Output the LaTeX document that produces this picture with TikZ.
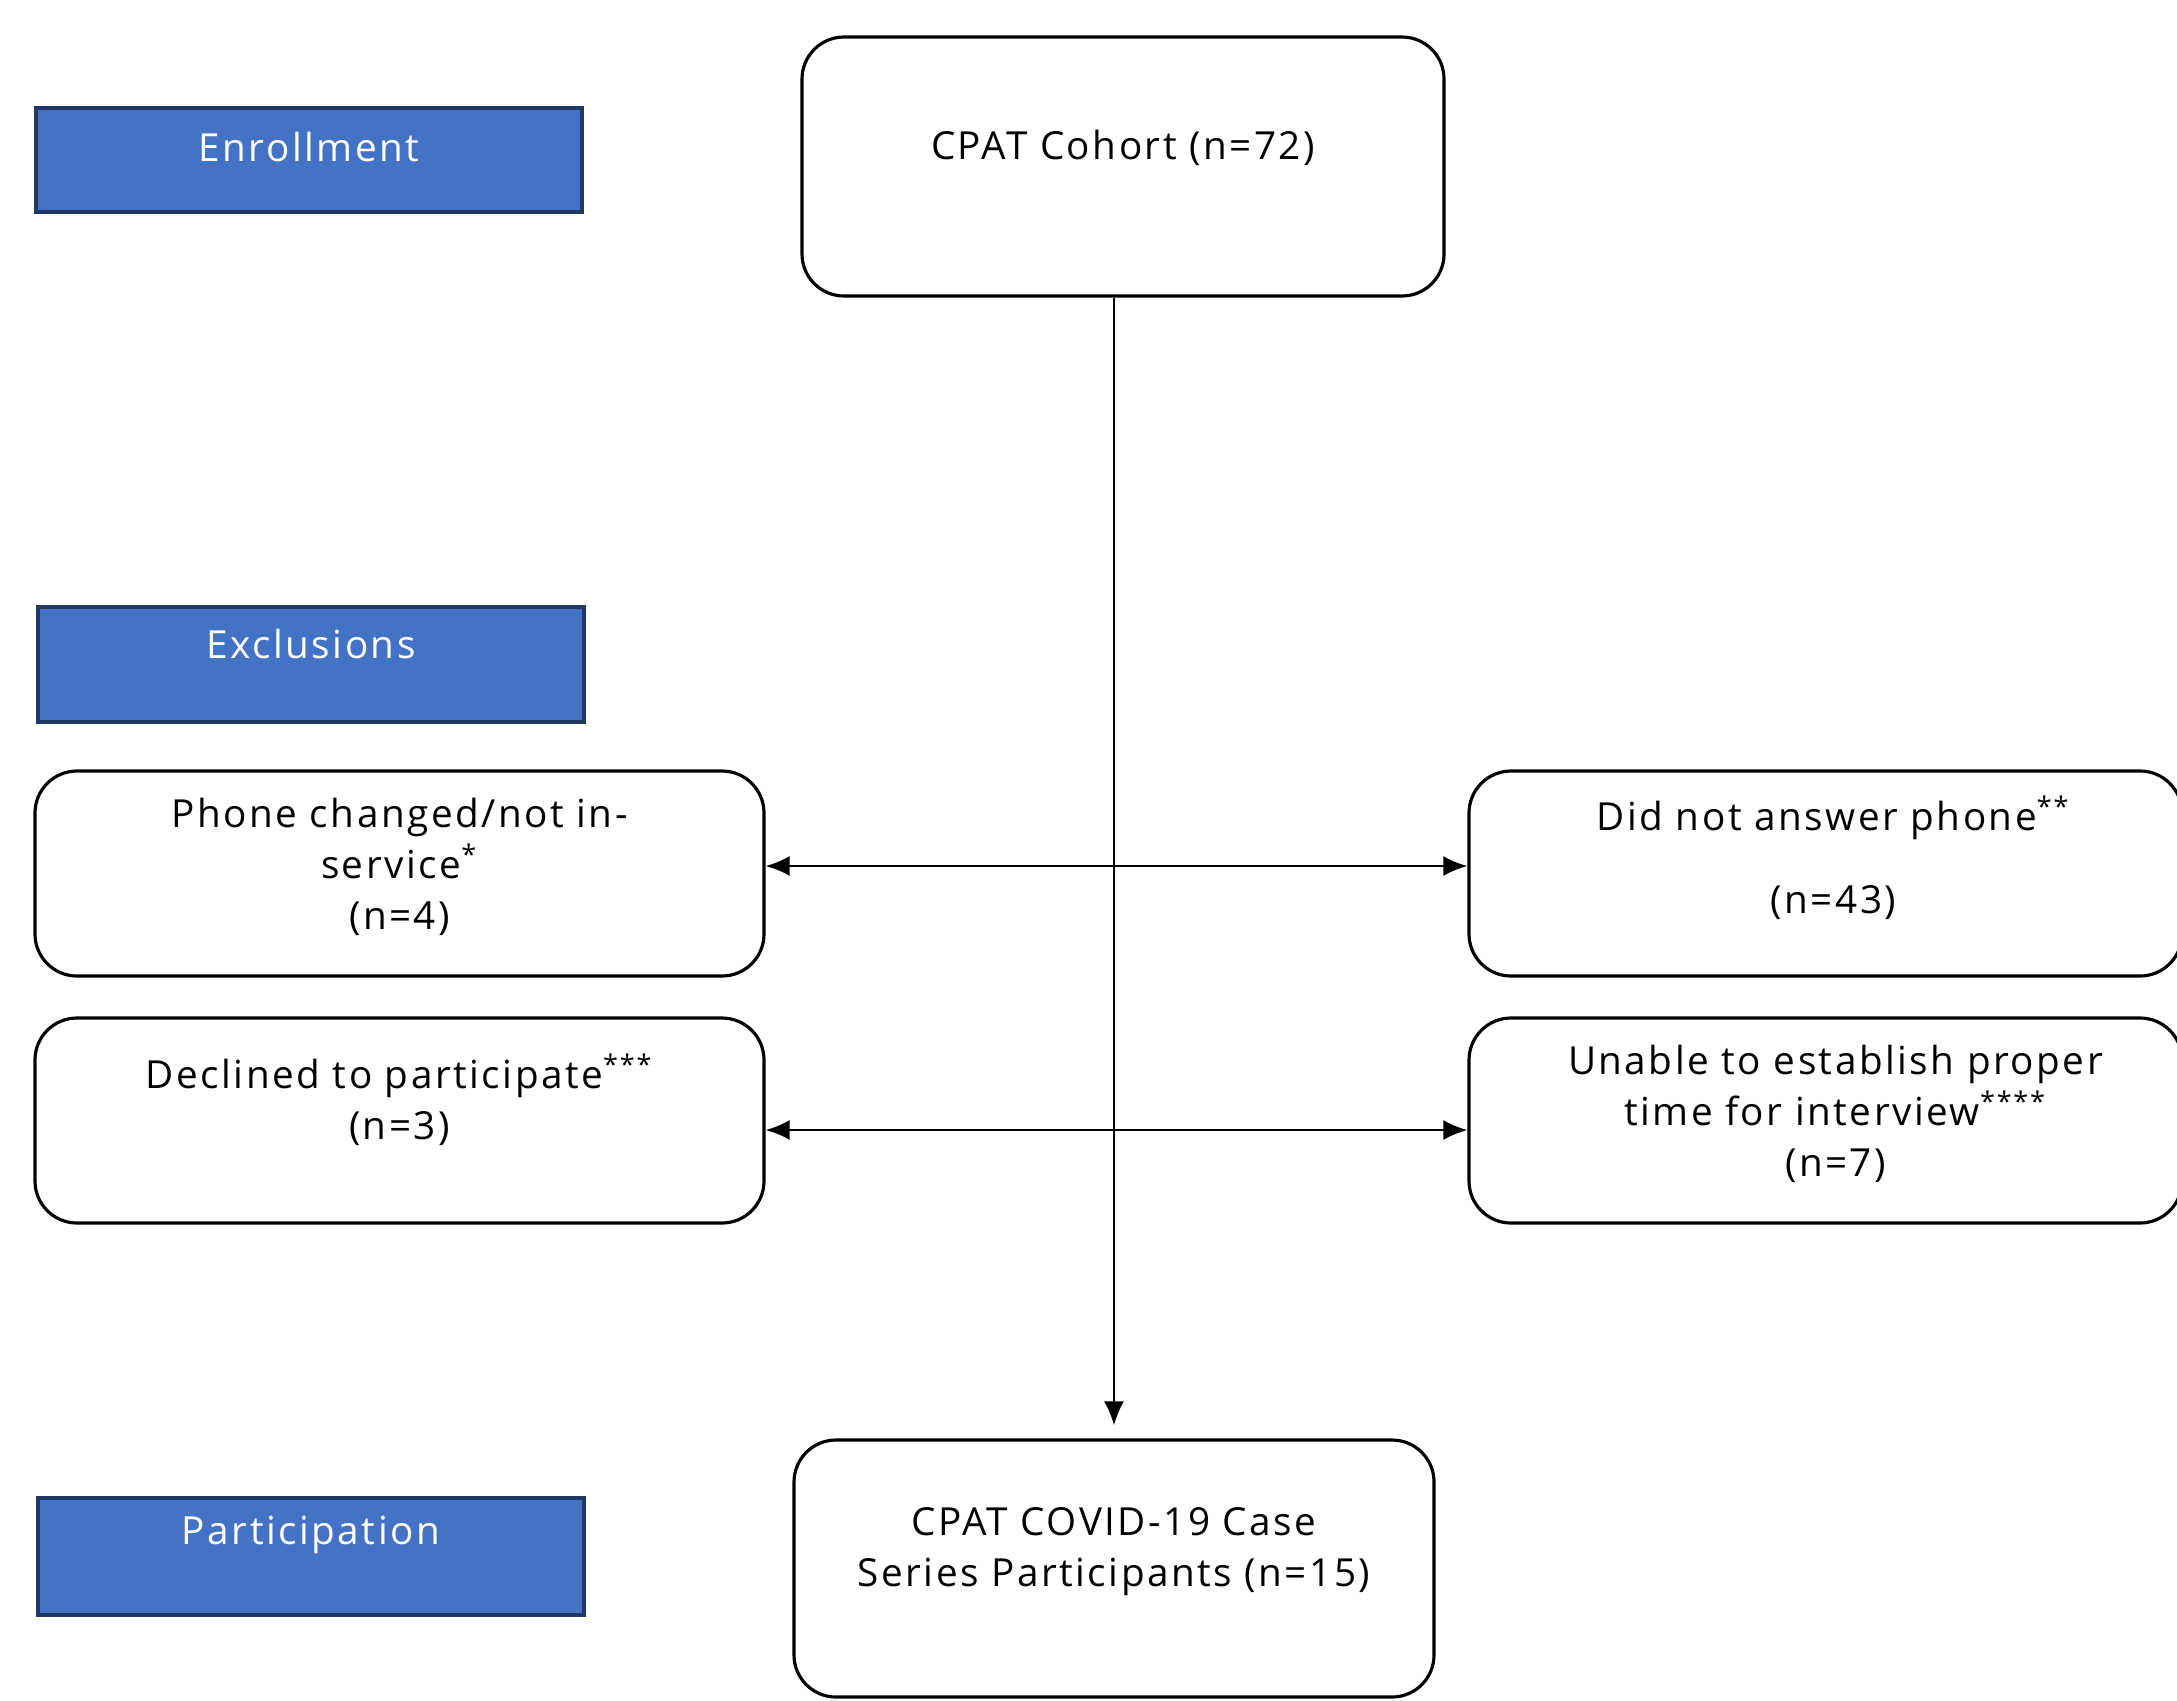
\documentclass[tikz,border=0pt]{standalone}
\usepackage{fontspec}
\setmainfont[LetterSpace=6.5]{Open Sans}
\usetikzlibrary{arrows.meta,positioning}
\definecolor{stageblue}{HTML}{4472C4}
\definecolor{stageedge}{HTML}{1F3864}
\tikzset{
  flowbox/.style={draw=black, line width=0.9pt, rounded corners=0.42cm, inner sep=0pt},
  stagebox/.style={draw=stageedge, fill=stageblue, line width=1.1pt, inner sep=0pt,
    minimum width=5.46cm},
  boxtext/.style={align=center, font=\fontsize{11}{14.5}\selectfont, inner sep=0pt},
  stagetext/.style={boxtext, text=white},
}
\begin{document}
\begin{tikzpicture}[>={Latex[length=2.4mm,width=2mm]}]
    \useasboundingbox (0,0) rectangle (21.77,-17);
    \clip (0,0) rectangle (21.77,-17);
    % stage labels
    \node[stagebox, minimum height=1.04cm] (enroll) at (3.09,-1.6) {};
    \node[stagebox, minimum height=1.15cm] (excl) at (3.11,-6.645) {};
    \node[stagebox, minimum height=1.17cm] (partic) at (3.11,-15.565) {};
    \node[stagetext] at ([yshift=-0.41cm]enroll.north) {Enrollment};
    \node[stagetext] at ([yshift=-0.39cm]excl.north) {Exclusions};
    \node[stagetext] at ([yshift=-0.39cm]partic.north) {Participation};
    % main boxes
    \node[flowbox, minimum width=6.42cm, minimum height=2.59cm] (cohort) at (11.23,-1.665) {};
    \node[flowbox, minimum width=6.40cm, minimum height=2.57cm] (covid) at (11.14,-15.685) {};
    \node[boxtext] at ([yshift=-1.12cm]cohort.north) {CPAT Cohort (n=72)};
    \node[boxtext] at ([yshift=-1.13cm]covid.north) {CPAT COVID-19 Case\\Series Participants (n=15)};
    % exclusion boxes
    \node[flowbox, minimum width=7.29cm, minimum height=2.05cm] (phone) at (3.995,-8.735) {};
    \node[flowbox, minimum width=7.29cm, minimum height=2.05cm] (declined) at (3.995,-11.205) {};
    \node[flowbox, minimum width=7.13cm, minimum height=2.05cm] (noanswer) at (18.255,-8.735) {};
    \node[flowbox, minimum width=7.13cm, minimum height=2.05cm] (unable) at (18.255,-11.205) {};
    \node[boxtext] at ([yshift=-0.97cm]phone.north) {Phone changed/not in-\\service\textsuperscript{*}\\(n=4)};
    \node[boxtext] at ([yshift=-0.835cm]declined.north) {Declined to participate\textsuperscript{***}\\(n=3)};
    \node[boxtext] at ([xshift=0.08cm,yshift=-0.88cm]noanswer.north) {Did not answer phone\textsuperscript{**}\\[0.32cm](n=43)};
    \node[boxtext] at ([xshift=0.1cm,yshift=-0.97cm]unable.north) {Unable to establish proper\\time for interview\textsuperscript{****}\\(n=7)};
    % connectors
    \draw[->, line width=0.7pt, shorten >=0.13cm] (cohort.south -| covid.north) -- (covid.north);
    \draw[<->, line width=0.7pt] ([yshift=0.075cm]phone.east) -- ([yshift=0.075cm]noanswer.west);
    \draw[<->, line width=0.7pt] ([yshift=-0.095cm]declined.east) -- ([yshift=-0.095cm]unable.west);
\end{tikzpicture}
\end{document}
